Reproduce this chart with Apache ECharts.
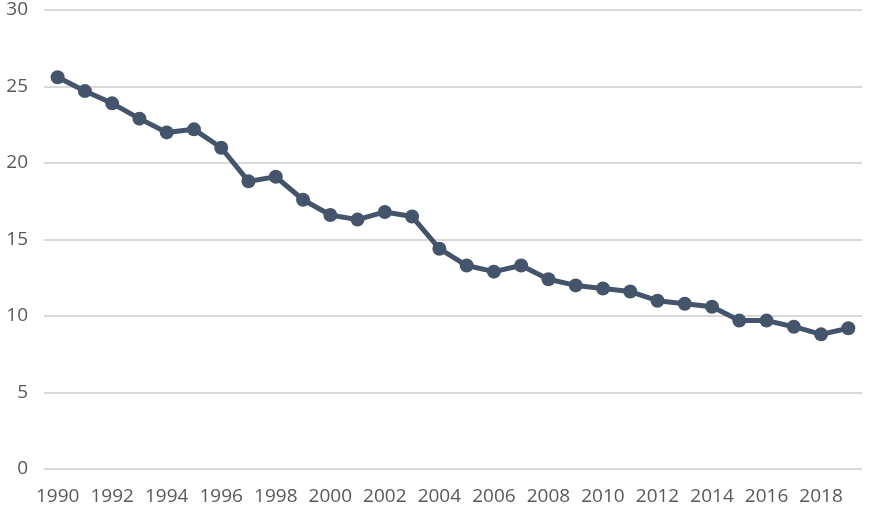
<!DOCTYPE html>
<html><head><meta charset="utf-8">
<script src="https://cdn.jsdelivr.net/npm/echarts@6/dist/echarts.min.js"></script>
<style>html,body{margin:0;padding:0;background:#fff}#c{width:880px;height:512px}</style>
</head><body><div id="c"></div>
<script>
var years = ['1990','1991','1992','1993','1994','1995','1996','1997','1998','1999','2000','2001','2002','2003','2004','2005','2006','2007','2008','2009','2010','2011','2012','2013','2014','2015','2016','2017','2018','2019'];
var values = [25.6,24.7,23.9,22.9,22.0,22.2,21.0,18.8,19.1,17.6,16.6,16.3,16.8,16.5,14.4,13.3,12.9,13.3,12.4,12.0,11.8,11.6,11.0,10.8,10.6,9.7,9.7,9.3,8.8,9.2];
var chart = echarts.init(document.getElementById('c'), null, {renderer:'canvas'});
chart.setOption({
  animation:false,
  grid:{left:44,right:18,top:10,bottom:43,containLabel:false},
  xAxis:{type:'category',data:years,boundaryGap:true,
    axisLine:{show:false},axisTick:{show:false},
    axisLabel:{interval:1,color:'#595959',fontSize:19,fontFamily:'Open Sans',margin:18}},
  yAxis:{type:'value',min:0,max:30,interval:5,
    axisLine:{show:false},axisTick:{show:false},
    splitLine:{lineStyle:{color:'#d9d9d9',width:2}},
    axisLabel:{color:'#595959',fontSize:19,fontFamily:'Open Sans',margin:16,align:'right'}},
  series:[{type:'line',data:values,symbol:'circle',symbolSize:14,
    lineStyle:{color:'#44546a',width:5},itemStyle:{color:'#44546a'}}]
});
</script></body></html>
